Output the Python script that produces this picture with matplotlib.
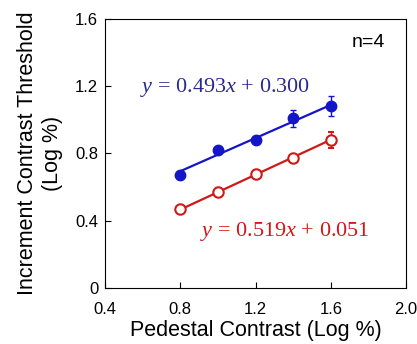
import matplotlib
matplotlib.use("Agg")
import matplotlib.pyplot as plt
import numpy as np

plt.rcParams['font.family'] = 'Liberation Sans'
plt.rcParams['mathtext.fontset'] = 'custom'
plt.rcParams['mathtext.rm'] = 'Liberation Serif'
plt.rcParams['mathtext.it'] = 'Liberation Serif:italic'

pedestal = [0.8, 1.0, 1.2, 1.4, 1.6]
filled = [0.67, 0.82, 0.88, 1.01, 1.08]
filled_err = [0.025, 0.02, 0.02, 0.05, 0.06]
open_ = [0.47, 0.57, 0.68, 0.77, 0.88]
open_err = [0.02, 0.025, 0.02, 0.02, 0.05]
fit_filled = (0.493, 0.300)
fit_open = (0.519, 0.051)

blue = '#1515c8'
red = '#d01818'

fig = plt.figure(figsize=(4.17, 3.44), dpi=100)
ax = fig.add_axes([0.252, 0.163, 0.722, 0.782])

xs = np.array([pedestal[0], pedestal[-1]])
ax.plot(xs, fit_filled[0] * xs + fit_filled[1], color=blue, lw=1.6)
ax.plot(xs, fit_open[0] * xs + fit_open[1], color=red, lw=1.6)

ax.errorbar(pedestal, filled, yerr=filled_err, fmt='o', color=blue, ms=7.5,
            capsize=2, elinewidth=1, zorder=3)
ax.errorbar(pedestal, open_, yerr=open_err, fmt='o', color=red, mfc='white',
            mec=red, mew=1.5, ms=7.5, capsize=2, elinewidth=1, zorder=3)

eq_font = {'family': 'Liberation Serif', 'size': 16}
ax.text(0.586, 1.19, r'$y$ = 0.493$x$ + 0.300', color='#2a2a90',
        fontdict=eq_font, va='center')
ax.text(0.905, 0.333, r'$y$ = 0.519$x$ + 0.051', color=red,
        fontdict=eq_font, va='center')
ax.text(1.713, 1.457, 'n=4', fontsize=14, va='center')

ax.set_xlim(0.4, 2.0)
ax.set_ylim(0, 1.6)
ax.set_xticks([0.4, 0.8, 1.2, 1.6, 2.0])
ax.set_xticklabels(['0.4', '0.8', '1.2', '1.6', '2.0'])
ax.set_yticks([0, 0.4, 0.8, 1.2, 1.6])
ax.set_yticklabels(['0', '0.4', '0.8', '1.2', '1.6'])
ax.tick_params(direction='in', labelsize=12, length=4)
ax.tick_params(axis='x', pad=10)
ax.tick_params(axis='y', pad=5)
ax.set_xlabel('Pedestal Contrast (Log %)', fontsize=15.5, labelpad=2)
ax.set_ylabel('Increment Contrast Threshold\n(Log %)', fontsize=15.5,
              labelpad=9)

fig.savefig('out.png', dpi=100)
